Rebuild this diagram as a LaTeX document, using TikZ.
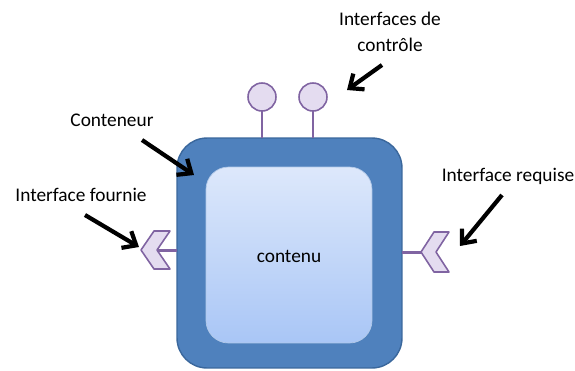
\documentclass[tikz,border=0pt]{standalone}
\usepackage{fontspec}
\setmainfont{Carlito}
\usetikzlibrary{arrows.meta}

\definecolor{boxblue}{HTML}{4F81BD}
\definecolor{boxedge}{HTML}{3A679C}
\definecolor{lighttop}{HTML}{DDE8FB}
\definecolor{lightbot}{HTML}{A9C6F6}
\definecolor{plum}{HTML}{8064A2}
\definecolor{lilac}{HTML}{E4DCF0}

\tikzset{
  label text/.style={font=\fontsize{11}{13}\selectfont, align=center, inner sep=0pt},
  pointer/.style={line width=2.4pt, -{Straight Barb[length=6.5pt,width=11pt,line width=2.4pt]}},
  stem/.style={plum, line width=1.7pt},
  plug/.style={draw=plum, fill=lilac, line width=0.9pt, line join=round},
}

\begin{document}
\begin{tikzpicture}[x=0.02cm, y=-0.02cm]

      % Definitions
      \def\pr{14}       % Radius of control pins
      \def\py{97}       % Height of pin centres

      \useasboundingbox (0,0) rectangle (575,370);

      % Container and content
      \node (cont) [draw=boxedge, fill=boxblue, line width=0.8pt, rounded corners=0.6cm,
                    minimum width=4.5cm, minimum height=4.6cm] at (289.5,253) {};
      \node (inner) [top color=lighttop, bottom color=lightbot, draw=lighttop!70!boxblue,
                     line width=0.4pt, rounded corners=0.45cm,
                     minimum width=3.32cm, minimum height=3.52cm] at (289,255) {};
      \node (lbl) [label text] at (289,256) {contenu};

      % Control pins
      \foreach \x/\n in {262/pa, 313/pb} {
        \draw [stem] (\x,138) -- (\x,\py+\pr);
        \draw [plug] (\x,\py) circle [radius=\pr];
        \coordinate (\n) at (\x,\py);
      }

      % Provided interface (left)
      \draw [stem] (157,250) -- (177,250);
      \draw [plug] (141,250) -- (154,231) -- (170,231) -- (157,250) -- (170,269) -- (154,269) -- cycle;

      % Required interface (right)
      \draw [stem] (402,252) -- (421,252);
      \draw [plug] (421,252) -- (434,232) -- (449,232) -- (436,252) -- (449,272) -- (434,272) -- cycle;

      % Labels
      \node (ctrl) [label text] at (390,32) {Interfaces de\\[2pt]contrôle};
      \node (cnt)  [label text] at (112,120) {Conteneur};
      \node (prov) [label text] at (81,195) {Interface fournie};
      \node (req)  [label text] at (508,176) {Interface requise};

      % Pointer arrows
      \coordinate (ctrlA) at (382,65);  \coordinate (ctrlB) at (347,90);
      \coordinate (cntA)  at (142,140); \coordinate (cntB)  at (194,175);
      \coordinate (provA) at (85,215);  \coordinate (provB) at (139,247);
      \coordinate (reqA)  at (502,195); \coordinate (reqB)  at (460,246);

      \draw [pointer] (ctrlA) -- (ctrlB);
      \draw [pointer] (cntA) -- (cntB);
      \draw [pointer] (provA) -- (provB);
      \draw [pointer] (reqA) -- (reqB);

   \end{tikzpicture}
\end{document}
